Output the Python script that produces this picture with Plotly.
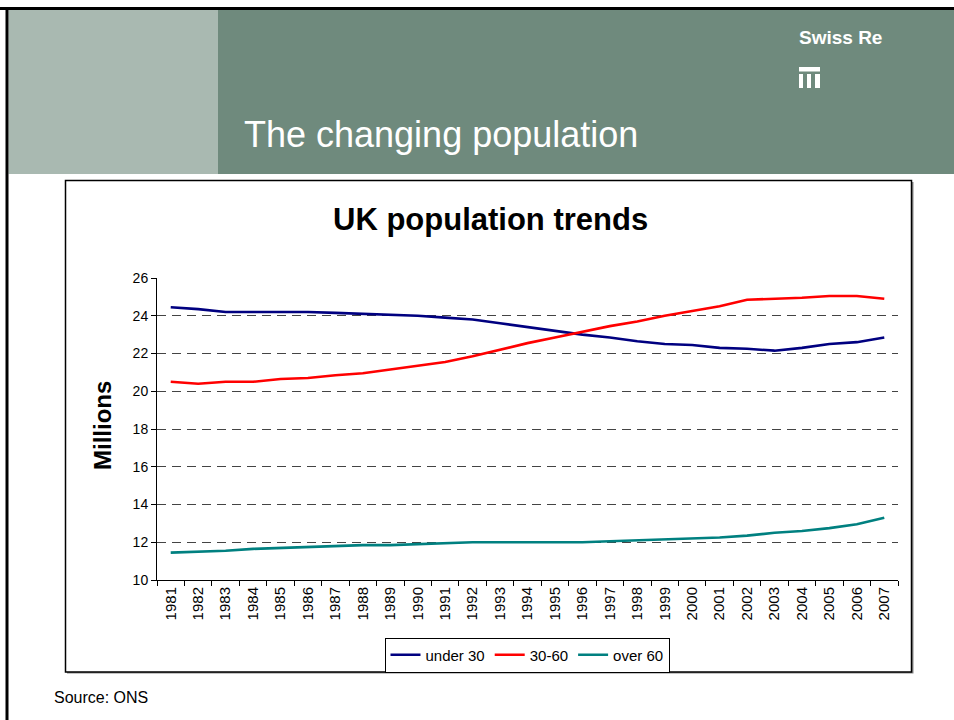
import plotly.graph_objects as go

# UK population by age band, millions (ONS)
years = [str(y) for y in range(1981, 2008)]
under_30 = [24.45, 24.35, 24.2, 24.2, 24.2, 24.2, 24.15, 24.1, 24.05, 24.0,
            23.9, 23.8, 23.6, 23.4, 23.2, 23.0, 22.85, 22.65, 22.5, 22.45,
            22.3, 22.25, 22.15, 22.3, 22.5, 22.6, 22.85]
age_30_60 = [20.5, 20.4, 20.5, 20.5, 20.65, 20.7, 20.85, 20.95, 21.15, 21.35,
             21.55, 21.85, 22.2, 22.55, 22.85, 23.15, 23.45, 23.7, 24.0, 24.25,
             24.5, 24.85, 24.9, 24.95, 25.05, 25.05, 24.9]
over_60 = [11.45, 11.5, 11.55, 11.65, 11.7, 11.75, 11.8, 11.85, 11.85, 11.9,
           11.95, 12.0, 12.0, 12.0, 12.0, 12.0, 12.05, 12.1, 12.15, 12.2,
           12.25, 12.35, 12.5, 12.6, 12.75, 12.95, 13.3]
series_names = ["under 30", "30-60", "over 60"]
series_colors = ["#000080", "#ff0000", "#008080"]
y_ticks = [10, 12, 14, 16, 18, 20, 22, 24, 26]

W, H = 954, 720
L, R, T, B = 157, 898, 278, 580   # plot area in pixels
PW, PH = R - L, B - T


def px(x):
    return (x - L) / PW


def py(y):
    return (B - y) / PH


FONT = "Liberation Sans, Arial, sans-serif"

fig = go.Figure()
for name, vals, col in zip(series_names, [under_30, age_30_60, over_60], series_colors):
    fig.add_trace(go.Scatter(x=years, y=vals, name=name, mode="lines",
                             line=dict(color=col, width=2.6)))

shapes = [
    # slide frame
    dict(type="line", xref="paper", yref="paper", x0=px(0), x1=px(W), y0=py(8.5), y1=py(8.5),
         line=dict(color="black", width=3)),
    dict(type="line", xref="paper", yref="paper", x0=px(7), x1=px(7), y0=py(7), y1=py(H),
         line=dict(color="black", width=3)),
    # header bands
    dict(type="rect", xref="paper", yref="paper", x0=px(8.5), x1=px(218), y0=py(10), y1=py(174),
         fillcolor="#a9b9b1", line=dict(width=0), layer="below"),
    dict(type="rect", xref="paper", yref="paper", x0=px(218), x1=px(W), y0=py(10), y1=py(174),
         fillcolor="#6f8a7d", line=dict(width=0), layer="below"),
    # logo mark
    dict(type="rect", xref="paper", yref="paper", x0=px(799), x1=px(820), y0=py(67), y1=py(71.5),
         fillcolor="white", line=dict(width=0)),
    dict(type="rect", xref="paper", yref="paper", x0=px(799), x1=px(803), y0=py(74), y1=py(88),
         fillcolor="white", line=dict(width=0)),
    dict(type="rect", xref="paper", yref="paper", x0=px(807), x1=px(811), y0=py(74), y1=py(88),
         fillcolor="white", line=dict(width=0)),
    dict(type="rect", xref="paper", yref="paper", x0=px(815), x1=px(820), y0=py(74), y1=py(88),
         fillcolor="white", line=dict(width=0)),
    # chart frame with shadow
    dict(type="rect", xref="paper", yref="paper", x0=px(67), x1=px(913.5), y0=py(182), y1=py(673.5),
         fillcolor="#888", line=dict(width=0), layer="below"),
    dict(type="rect", xref="paper", yref="paper", x0=px(65.5), x1=px(911.5), y0=py(180.5), y1=py(672),
         fillcolor="white", line=dict(color="black", width=1.5), layer="below"),
]

annotations = [
    dict(text="The changing population", xref="paper", yref="paper", x=px(242), y=py(134),
         xanchor="left", yanchor="middle", showarrow=False,
         font=dict(family=FONT, size=36, color="white")),
    dict(text="<b>Swiss Re</b>", xref="paper", yref="paper", x=px(797), y=py(38),
         xanchor="left", yanchor="middle", showarrow=False,
         font=dict(family=FONT, size=19, color="white")),
    dict(text="<b>UK population trends</b>", xref="paper", yref="paper", x=px(490), y=py(220),
         xanchor="center", yanchor="middle", showarrow=False,
         font=dict(family=FONT, size=31, color="black")),
    dict(text="<b>Millions</b>", xref="paper", yref="paper", x=px(102), y=py(426),
         xanchor="center", yanchor="middle", showarrow=False, textangle=-90,
         font=dict(family=FONT, size=24, color="black")),
    dict(text="Source: ONS", xref="paper", yref="paper", x=px(52), y=py(697),
         xanchor="left", yanchor="middle", showarrow=False,
         font=dict(family=FONT, size=16, color="black")),
]

fig.update_layout(
    width=W, height=H,
    margin=dict(l=L, r=W - R, t=T, b=H - B, pad=0),
    paper_bgcolor="white", plot_bgcolor="rgba(0,0,0,0)",
    font=dict(family=FONT, size=13, color="black"),
    shapes=shapes, annotations=annotations,
    showlegend=True,
    legend=dict(orientation="h", x=px(527), y=py(655), xanchor="center", yanchor="middle",
                bordercolor="black", borderwidth=1, bgcolor="white",
                font=dict(family=FONT, size=15), itemwidth=30, tracegroupgap=0),
    xaxis=dict(type="category", range=[-0.5, len(years) - 0.5], tickangle=-90,
               ticks="outside", ticklen=5, tickson="boundaries", tickcolor="black",
               showline=True, linecolor="black", linewidth=1, showgrid=False,
               tickfont=dict(size=15), fixedrange=True),
    yaxis=dict(range=[10, 26], tickvals=y_ticks, ticks="outside", ticklen=5,
               tickcolor="black", showline=True, linecolor="black", linewidth=1,
               showgrid=True, gridcolor="#444", griddash="9px,6px", gridwidth=1,
               zeroline=False, tickfont=dict(size=14), fixedrange=True),
)

fig.write_html("out.html")
